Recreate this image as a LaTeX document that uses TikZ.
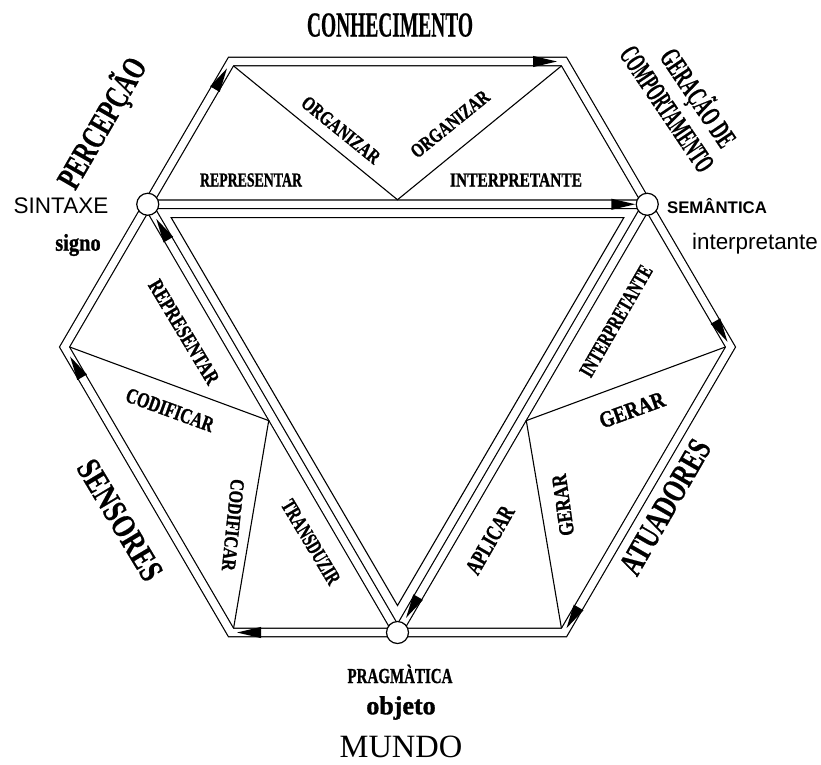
\documentclass[tikz,border=0pt]{standalone}
\usepackage{graphicx}
\usepackage{fontspec}
\setmainfont{Liberation Serif}
\newfontfamily\sansf{Liberation Sans}
\newfontfamily\labf{Liberation Serif Bold}[FakeBold=1.3]
\newfontfamily\headf{Liberation Serif Bold}[FakeBold=0.6]
\usetikzlibrary{calc}
\newcommand\fitt[3]{\resizebox{#1}{#2}{\smash{#3}\vphantom{H}}}
% arrow head inside a pipe: from #1 towards #2, tip #3 before #2, base #4 before #2
\newcommand\ahead[4]{%
  \path ($(#2)!#3!(#1)$) coordinate (tip) ($(#2)!#4!(#1)$) coordinate (base);
  \fill (tip) -- ($(base)!5.6pt!90:(tip)$) -- ($(base)!5.6pt!-90:(tip)$) -- cycle;}
\tikzset{
  pipe/.style={draw, line width=1.2pt, double=white, double distance=7.4pt, line join=miter},
  thinline/.style={draw, line width=1.1pt},
  hub/.style={circle, draw, line width=1.2pt, fill=white, minimum size=22pt, inner sep=0pt},
  lab/.style={inner sep=0pt, font=\labf},
  big/.style={inner sep=0pt, font=\headf},
}
\begin{document}
\begin{tikzpicture}[x=1pt,y=-1pt]
\fill[white] (0,0) rectangle (821,764);
\useasboundingbox (0,0) rectangle (821,764);
% hexagon (pipe centre line)
\coordinate (C) at (397.5,347);
\coordinate (L) at (64.5,347);
\coordinate (R) at (730.5,347);
\coordinate (TL) at (231,61.5);
\coordinate (TR) at (564,61.5);
\coordinate (BR) at (564,632.5);
\coordinate (BL) at (231,632.5);
% hubs
\coordinate (S) at ($(L)!0.5!(TL)$);
\coordinate (M) at ($(TR)!0.5!(R)$);
\coordinate (P) at ($(BL)!0.5!(BR)$);
% inner corners of hexagon pipe
\coordinate (TLi) at ($(TL)!5.2pt!(C)$);
\coordinate (TRi) at ($(TR)!5.2pt!(C)$);
\coordinate (Ri) at ($(R)!5.2pt!(C)$);
\coordinate (BRi) at ($(BR)!5.2pt!(C)$);
\coordinate (BLi) at ($(BL)!5.2pt!(C)$);
\coordinate (Li) at ($(L)!5.2pt!(C)$);
% outer points at middle of triangle edges
\coordinate (SM) at ($(S)!0.5!(M)$);
\coordinate (SP) at ($(S)!0.5!(P)$);
\coordinate (MP) at ($(M)!0.5!(P)$);
\coordinate (o1) at ($(SM)!-4.5pt!(C)$);
\coordinate (o2) at ($(SP)!-4.5pt!(C)$);
\coordinate (o3) at ($(MP)!-4.5pt!(C)$);
% inner triangle corners
\coordinate (Si) at ($(S)!27pt!(C)$);
\coordinate (Mi) at ($(M)!27pt!(C)$);
\coordinate (Pi) at ($(P)!27pt!(C)$);

\draw[pipe] (L) -- (TL) -- (TR) -- (R) -- (BR) -- (BL) -- cycle;
\draw[pipe] (S) -- (M) -- (P) -- cycle;
\draw[thinline] (Si) -- (Mi) -- (Pi) -- cycle;
\draw[thinline] (TLi) -- (o1) -- (TRi);
\draw[thinline] (Li) -- (o2) -- (BLi);
\draw[thinline] (Ri) -- (o3) -- (BRi);

% arrow heads inside pipes
\ahead{S}{TL}{8pt}{32pt}
\ahead{TL}{TR}{7pt}{31pt}
\ahead{M}{R}{6pt}{30pt}
\ahead{R}{BR}{5pt}{29pt}
\ahead{P}{BL}{6pt}{30pt}
\ahead{BL}{L}{11pt}{35pt}
\ahead{S}{M}{12pt}{36pt}
\ahead{M}{P}{17pt}{41pt}
\ahead{P}{S}{17pt}{41pt}

\node[hub] (hs) at (S) {};
\node[hub] (hm) at (M) {};
\node[hub] (hp) at (P) {};

% outer titles
\node[big] (conh) at (390,25) {\fitt{166pt}{23pt}{CONHECIMENTO}};
\node[big, rotate=60] (perc) at (102,123) {\fitt{145pt}{22pt}{PERCEPÇÃO}};
\node[big, rotate=-56] (ger1) at (698,98) {\fitt{112pt}{19pt}{GERAÇÃO DE}};
\node[big, rotate=-56] (ger2) at (667,109) {\fitt{145pt}{19pt}{COMPORTAMENTO}};
\node[big, rotate=-59] (sens) at (120,520) {\fitt{135pt}{22pt}{SENSORES}};
\node[big, rotate=60] (atua) at (665,507) {\fitt{150pt}{22pt}{ATUADORES}};

\node[inner sep=0pt, font=\sansf\fontsize{22.5}{24}\selectfont] (sintaxe) at (61,206) {SINTAXE};
\node[lab] (signo) at (78,245) {\scalebox{0.85}[1]{\fontsize{24}{24}\selectfont signo}};
\node[inner sep=0pt, font=\sansf\bfseries\fontsize{16.8}{18}\selectfont] (seman) at (717,206) {SEMÂNTICA};
\node[inner sep=0pt, font=\sansf\fontsize{22.4}{24}\selectfont] (interp) at (755,244) {interpretante};
\node[lab] (prag) at (400,676) {\fitt{105pt}{14pt}{PRAGMÀTICA}};
\node[lab, font=\labf\fontsize{26}{28}\selectfont] (obj) at (401,708) {objeto};
\node[inner sep=0pt, font=\fontsize{32.5}{34}\selectfont] (mundo) at (401,747) {MUNDO};

% edge labels
\node[lab] (l1) at (251,180) {\fitt{102pt}{13pt}{REPRESENTAR}};
\node[lab] (l2) at (516,180) {\fitt{132pt}{13pt}{INTERPRETANTE}};
\node[lab, rotate=-39] (l3) at (341,130) {\fitt{95pt}{13pt}{ORGANIZAR}};
\node[lab, rotate=39] (l4) at (450,124) {\fitt{95pt}{13pt}{ORGANIZAR}};
\node[lab, rotate=-59] (l5) at (184,332) {\fitt{118pt}{14pt}{REPRESENTAR}};
\node[lab, rotate=-20] (l6) at (170,410) {\fitt{92pt}{14pt}{CODIFICAR}};
\node[lab, rotate=-96] (l7) at (233,525) {\fitt{92pt}{13pt}{CODIFICAR}};
\node[lab, rotate=-59] (l8) at (311,542) {\fitt{95pt}{14pt}{TRANSDUZIR}};
\node[lab, rotate=60] (l9) at (616,321) {\fitt{125pt}{14pt}{INTERPRETANTE}};
\node[lab, rotate=20] (l10) at (632,410) {\fitt{68pt}{15pt}{GERAR}};
\node[lab, rotate=98] (l11) at (563,505) {\fitt{62pt}{14pt}{GERAR}};
\node[lab, rotate=60] (l12) at (490,540) {\fitt{75pt}{15pt}{APLICAR}};
\end{tikzpicture}
\end{document}
